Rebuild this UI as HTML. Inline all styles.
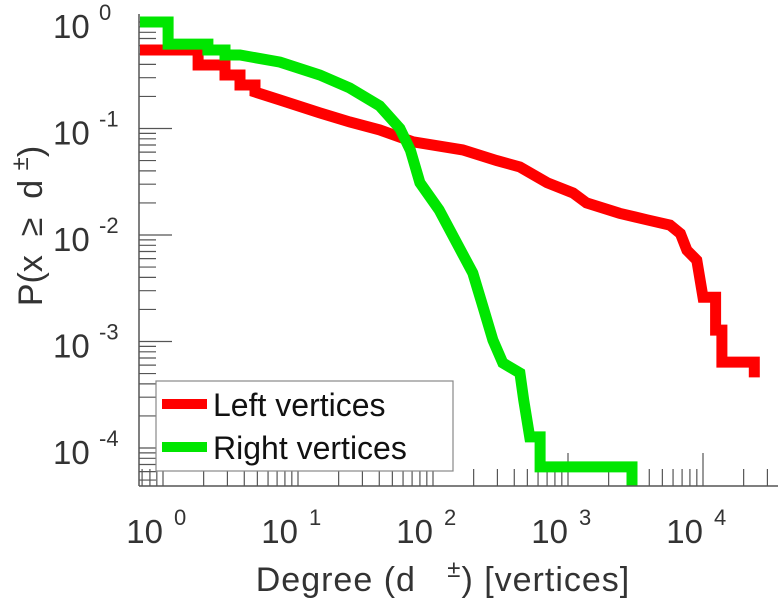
<!DOCTYPE html>
<html><head><meta charset="utf-8"><style>
html,body{margin:0;padding:0;background:#fff;}
svg{display:block;font-family:"Liberation Sans",sans-serif;}
</style></head><body>
<svg id="chart" width="780" height="600" viewBox="0 0 780 600" xmlns="http://www.w3.org/2000/svg">
<g id="ticks"></g>
<g id="series"></g>
<g id="labels"></g>
<line x1="139" y1="14" x2="139" y2="486" stroke="#555" stroke-width="1.5"/>
<line x1="139" y1="486" x2="778" y2="486" stroke="#555" stroke-width="1.5"/>
<text transform="translate(42,226) rotate(-90)" text-anchor="middle" font-size="34" fill="#333" xml:space="preserve">P(x  ≥  d <tspan font-size="24" dy="-14">±</tspan><tspan dy="14">)</tspan></text>
<text x="443" y="591" text-anchor="middle" font-size="34" fill="#333" letter-spacing="1" xml:space="preserve">Degree (d   <tspan font-size="24" dy="-14">±</tspan><tspan dy="14">) [vertices]</tspan></text>
<g>
<rect x="156" y="381" width="297" height="90" fill="#fff" stroke="#888" stroke-width="1.2"/>
<g>
<line x1="162" y1="404" x2="207" y2="404" stroke="#ff0000" stroke-width="10"/>
<text x="213" y="416" font-size="32" fill="#111">Left vertices</text></g>
<g>
<line x1="162" y1="447" x2="207" y2="447" stroke="#00e600" stroke-width="10"/>
<text x="213" y="459" font-size="32" fill="#111">Right vertices</text></g>
</g>
</svg>
<script>
const xTickExps = [0, 1, 2, 3, 4];
const yTickExps = [0, -1, -2, -3, -4];
const leftDeg = [0.675,1.82,1.82,2.88,2.88,3.72,3.72,4.8,4.8,7.36,14.5,24.2,40.3,71,166,297,440,700,1090,1370,2410,3850,5700,6800,7600,9000,10000,12400,12400,13800,13800,24000,24000];
const leftP = [0.546,0.546,0.395,0.395,0.318,0.318,0.256,0.256,0.22,0.185,0.14,0.115,0.097,0.075,0.063,0.05,0.0435,0.031,0.0248,0.02,0.016,0.0139,0.0124,0.0103,0.0072,0.0058,0.0026,0.0026,0.00128,0.00128,0.00064,0.00064,0.00046];
const rightDeg = [0.675,1.09,1.09,2.15,2.15,2.88,2.88,3.72,7.36,14.5,24.2,40.3,56.9,68,80,111,150,197,235,278,329,440,470,520,621,621,2980,2980];
const rightP = [1,1,0.62,0.62,0.546,0.546,0.49,0.49,0.42,0.318,0.24,0.163,0.10,0.0626,0.031,0.0172,0.0084,0.0044,0.0021,0.00103,0.00063,0.000506,0.000282,0.000127,0.000127,0.0000664,0.0000664,0.000044];

const NS = "http://www.w3.org/2000/svg";
const X0 = 163, XD = 135, Y0 = 22, YD = 106.5, XL = 139, XR = 778, YB = 486, YT = 14;
function xs(d){ return X0 + Math.log10(d) * XD; }
function ys(p){ return Y0 - Math.log10(p) * YD; }
function mk(tag, attrs, parent){ const e = document.createElementNS(NS, tag); for (const k in attrs) e.setAttribute(k, attrs[k]); parent.appendChild(e); return e; }

const ticks = document.getElementById('ticks');
for (let e = -1; e <= 4; e++) {
  for (let m = 1; m <= 9; m++) {
    const x = xs(m * Math.pow(10, e));
    if (x < XL || x > XR) continue;
    const len = m === 1 ? 33 : 17;
    const t = mk('line', {x1:x, y1:YB, x2:x, y2:YB - len, stroke:'#555', 'stroke-width':1.2}, ticks);
    
    
  }
}
for (let e = -5; e <= 0; e++) {
  for (let m = 1; m <= 9; m++) {
    const y = ys(m * Math.pow(10, e));
    if (y < YT || y > YB) continue;
    const len = m === 1 ? 33 : 17;
    const t = mk('line', {x1:XL, y1:y, x2:XL + len, y2:y, stroke:'#555', 'stroke-width':1.2}, ticks);
    
    
  }
}

const labels = document.getElementById('labels');
xTickExps.forEach(e => {
  const x = xs(Math.pow(10, e));
  const t = mk('text', {x:x, y:543, 'text-anchor':'end', 'font-size':33, fill:'#333'}, labels);
  t.textContent = '10';
  
  
  const s = mk('text', {x:x + 11, y:525, 'font-size':22, fill:'#333'}, labels);
  s.textContent = String(e);
  
  
});
yTickExps.forEach(e => {
  const y = ys(Math.pow(10, e));
  const t = mk('text', {x:53, y:y + 16, 'font-size':33, fill:'#333'}, labels);
  t.textContent = '10';
  
  
  const s = mk('text', {x:99, y:y - 2, 'font-size':22, fill:'#333'}, labels);
  s.textContent = String(e);
  
  
});

const series = document.getElementById('series');
function pts(ds, ps){ return ds.map((d, i) => xs(d).toFixed(1) + ',' + ys(ps[i]).toFixed(1)).join(' '); }
const red = mk('polyline', {points:pts(leftDeg, leftP), fill:'none', stroke:'#ff0000', 'stroke-width':11, 'stroke-linejoin':'miter'}, series);


const green = mk('polyline', {points:pts(rightDeg, rightP), fill:'none', stroke:'#00e600', 'stroke-width':11, 'stroke-linejoin':'miter'}, series);


</script>
</body></html>
